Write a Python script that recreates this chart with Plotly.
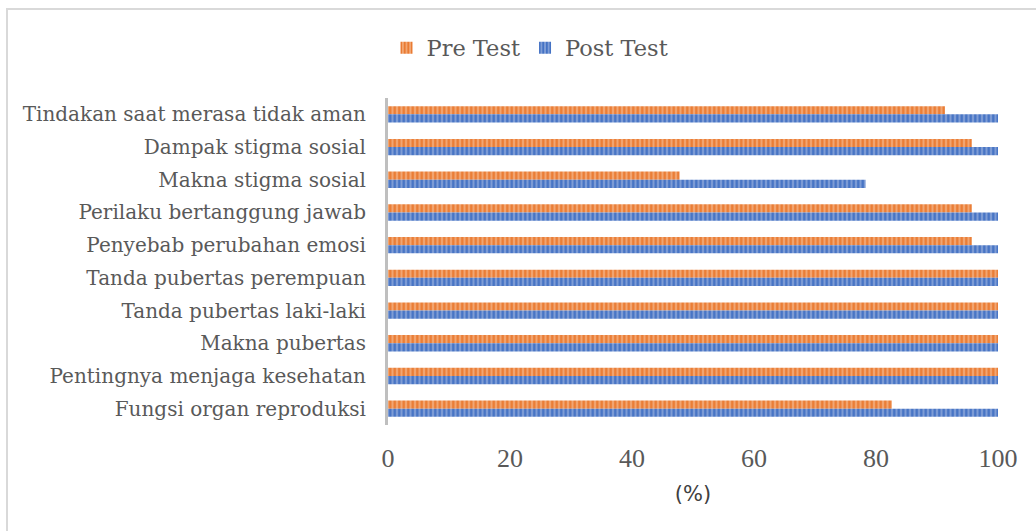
import plotly.graph_objects as go

categories = [
    "Tindakan saat merasa tidak aman",
    "Dampak stigma sosial",
    "Makna stigma sosial",
    "Perilaku bertanggung jawab",
    "Penyebab perubahan emosi",
    "Tanda pubertas perempuan",
    "Tanda pubertas laki-laki",
    "Makna pubertas",
    "Pentingnya menjaga kesehatan",
    "Fungsi organ reproduksi",
]
pre_test = [91.3, 95.7, 47.8, 95.7, 95.7, 100, 100, 100, 100, 82.6]
post_test = [100, 100, 78.3, 100, 100, 100, 100, 100, 100, 100]
x_ticks = [0, 20, 40, 60, 80, 100]

W, H = 1036, 531
L, R, T, B = 388, 38, 98, 106
pw, ph = W - L - R, H - T - B

fig = go.Figure()
fig.add_trace(go.Bar(
    y=categories, x=pre_test, name="Pre Test", orientation="h",
    marker=dict(color="#F2A672", line=dict(width=0),
                pattern=dict(shape="|", fgcolor="#E97B33", bgcolor="#F2A672",
                             size=4.5, solidity=0.5, fillmode="replace")),
))
fig.add_trace(go.Bar(
    y=categories, x=post_test, name="Post Test", orientation="h",
    marker=dict(color="#7E9DD6", line=dict(width=0),
                pattern=dict(shape="|", fgcolor="#4472C4", bgcolor="#7E9DD6",
                             size=4.5, solidity=0.5, fillmode="replace")),
))

serif = "DejaVu Serif, serif"
fig.update_layout(
    width=W, height=H,
    margin=dict(l=L, r=R, t=T, b=B, autoexpand=False),
    paper_bgcolor="white", plot_bgcolor="white",
    barmode="group", bargap=0.5, bargroupgap=0,
    font=dict(family=serif, size=19, color="#595959"),
    legend=dict(orientation="h", x=530 / W, xref="container",
                xanchor="center", y=(H - 48) / H, yref="container", yanchor="middle",
                font=dict(size=22.5, color="#595959", family=serif), itemwidth=30,
                traceorder="normal"),
    xaxis=dict(range=[0, 100], tickvals=x_ticks, showgrid=False, zeroline=False,
               showline=False, ticks="", automargin=False,
               tickfont=dict(size=26, color="#595959", family="Liberation Serif, serif"),
               ticklabelstandoff=15,
               title=dict(text="(%)", font=dict(size=21, color="#404040",
                                               family="DejaVu Sans, sans-serif"),
                          standoff=14)),
    yaxis=dict(autorange="reversed", showgrid=False, zeroline=False,
               showline=True, linecolor="#BFBFBF", linewidth=3, ticks="",
               ticklabelstandoff=15, automargin=False,
               tickfont=dict(size=20, color="#595959", family=serif)),
    shapes=[
        dict(type="rect", xref="paper", yref="paper", layer="below",
             x0=(7 - L) / pw, x1=(W + 40 - L) / pw,
             y0=(H - B - 9) / ph, y1=-(B + 40) / ph,
             fillcolor="rgba(0,0,0,0)",
             line=dict(color="#D9D9D9", width=2)),
    ],
)

fig.write_html("out.html", config={"displayModeBar": False},
               post_script="document.body.style.margin='0px';"
                           "document.body.style.overflow='hidden';")
